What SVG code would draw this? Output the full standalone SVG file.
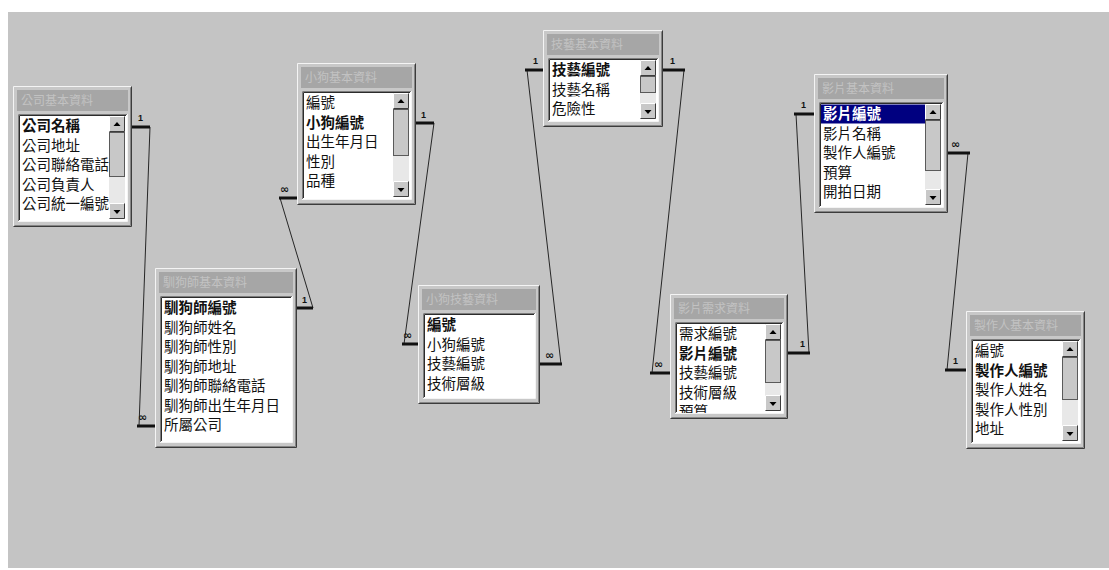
<svg xmlns="http://www.w3.org/2000/svg" xmlns:xlink="http://www.w3.org/1999/xlink" width="1109" height="570" viewBox="0 0 1109 570">
<style>
.face{fill:#c8c8c8}
.hl{fill:none;stroke:#f4f4f4;stroke-width:1}
.sh{fill:none;stroke:#3c3c3c;stroke-width:1}
.sh2{fill:none;stroke:#858585;stroke-width:1}
.tb{fill:#a6a6a6}
.tt{font-family:"Noto Sans CJK TC","Noto Sans CJK SC",sans-serif;font-size:12px;fill:#c2c2c2}
.lst{fill:#ffffff}
.sk1{fill:none;stroke:#7c7c7c;stroke-width:1}
.sk2{fill:none;stroke:#2c2c2c;stroke-width:1}
.f{font-family:"Noto Sans CJK TC","Noto Sans CJK SC",sans-serif;font-size:14.5px;fill:#111}
.b{font-weight:bold}
.sel{fill:#ffffff}
.trk{fill:#e8e8e8}
.thumb{fill:#c8c8c8;stroke:#5a5a5a;stroke-width:1}
.stub{fill:none;stroke:#111;stroke-width:3}
.ln{fill:none;stroke:#262626;stroke-width:1}
.lab{font-family:"Liberation Sans",sans-serif;font-size:9px;font-weight:bold;fill:#111}
.inf{font-family:"DejaVu Sans",sans-serif;font-size:11px;font-weight:bold;fill:#111}
</style>
<defs>
<g id="up"><rect width="16" height="16" fill="#c8c8c8"/><path d="M0.5,15.5V0.5H15.5" stroke="#fff" fill="none"/><path d="M0.5,15.5H15.5V0.5" stroke="#3c3c3c" fill="none"/><path d="M8,6L4.5,10H11.5Z" fill="#000"/></g>
<g id="dn"><rect width="16" height="16" fill="#c8c8c8"/><path d="M0.5,15.5V0.5H15.5" stroke="#fff" fill="none"/><path d="M0.5,15.5H15.5V0.5" stroke="#3c3c3c" fill="none"/><path d="M4.5,7H11.5L8,11Z" fill="#000"/></g>
<clipPath id="clipF"><rect x="5" y="28" width="108" height="91"/></clipPath>
</defs>
<rect width="1109" height="570" fill="#ffffff"/>
<rect x="8" y="12" width="1101" height="556" fill="#c4c4c4"/>

<g id="connectors">
<path class="ln" d="M150,127L139,426"/>
<path class="stub" d="M132,127H150"/><path class="stub" d="M137,426H155"/>
<text class="lab" x="138" y="121">1</text><text class="inf" x="138" y="421">∞</text>

<path class="ln" d="M280,198L313,308"/>
<path class="stub" d="M279,198H297"/><path class="stub" d="M297,308H313"/>
<text class="inf" x="280" y="193">∞</text><text class="lab" x="302" y="303">1</text>

<path class="ln" d="M434,123L404,344"/>
<path class="stub" d="M416,123H434"/><path class="stub" d="M402,344H418"/>
<text class="lab" x="421" y="118">1</text><text class="inf" x="403" y="339">∞</text>

<path class="ln" d="M561,364L527,70"/>
<path class="stub" d="M540,364H562"/><path class="stub" d="M525,70H543"/>
<text class="inf" x="545" y="359">∞</text><text class="lab" x="533" y="64">1</text>

<path class="ln" d="M684,70L652,373"/>
<path class="stub" d="M663,70H685"/><path class="stub" d="M650,373H670"/>
<text class="lab" x="670" y="64">1</text><text class="inf" x="654" y="368">∞</text>

<path class="ln" d="M809,353L796,114"/>
<path class="stub" d="M788,353H810"/><path class="stub" d="M794,114H814"/>
<text class="lab" x="800" y="347">1</text><text class="lab" x="801" y="108">1</text>

<path class="ln" d="M968,153L947,370"/>
<path class="stub" d="M948,153H970"/><path class="stub" d="M945,370H966"/>
<text class="inf" x="951" y="148">∞</text><text class="lab" x="953" y="364">1</text>
</g>

<g id="tbl-company" transform="translate(13,86)">
<rect class="face" width="119" height="141"/>
<path class="hl" d="M0.5,140V0.5H118"/><path class="sh" d="M0.5,140.5H118.5V0.5"/><path class="sh2" d="M1.5,139.5H117.5V1.5"/>
<rect class="tb" x="4" y="4" width="111" height="21"/><text class="tt" x="8" y="19">公司基本資料</text>
<rect class="lst" x="5" y="28" width="109" height="107"/>
<path class="sk1" d="M5.5,135V28.5H114"/><path class="sk2" d="M6.5,134V29.5H113"/><path class="hl" d="M5,135.5H114.5V28"/>
<text class="f b" x="9" y="45">公司名稱</text>
<text class="f" x="9" y="64.5">公司地址</text>
<text class="f" x="9" y="84">公司聯絡電話</text>
<text class="f" x="9" y="103.5">公司負責人</text>
<text class="f" x="9" y="123">公司統一編號</text>
<rect class="trk" x="96" y="30" width="16" height="103"/>
<rect class="thumb" x="96.5" y="46.5" width="15" height="44"/>
<use xlink:href="#up" x="96" y="30"/><use xlink:href="#dn" x="96" y="117"/>
</g>

<g id="tbl-trainer" transform="translate(155,268)">
<rect class="face" width="142" height="180"/>
<path class="hl" d="M0.5,179V0.5H141"/><path class="sh" d="M0.5,179.5H141.5V0.5"/><path class="sh2" d="M1.5,178.5H140.5V1.5"/>
<rect class="tb" x="4" y="4" width="134" height="21"/><text class="tt" x="8" y="19">馴狗師基本資料</text>
<rect class="lst" x="5" y="28" width="132" height="146"/>
<path class="sk1" d="M5.5,174V28.5H137"/><path class="sk2" d="M6.5,173V29.5H136"/><path class="hl" d="M5,174.5H137.5V28"/>
<text class="f b" x="9" y="45">馴狗師編號</text>
<text class="f" x="9" y="64.5">馴狗師姓名</text>
<text class="f" x="9" y="84">馴狗師性別</text>
<text class="f" x="9" y="103.5">馴狗師地址</text>
<text class="f" x="9" y="123">馴狗師聯絡電話</text>
<text class="f" x="9" y="142.5">馴狗師出生年月日</text>
<text class="f" x="9" y="162">所屬公司</text>
</g>

<g id="tbl-dog" transform="translate(297,63)">
<rect class="face" width="119" height="142"/>
<path class="hl" d="M0.5,141V0.5H118"/><path class="sh" d="M0.5,141.5H118.5V0.5"/><path class="sh2" d="M1.5,140.5H117.5V1.5"/>
<rect class="tb" x="4" y="4" width="111" height="21"/><text class="tt" x="8" y="19">小狗基本資料</text>
<rect class="lst" x="5" y="28" width="109" height="108"/>
<path class="sk1" d="M5.5,136V28.5H114"/><path class="sk2" d="M6.5,135V29.5H113"/><path class="hl" d="M5,136.5H114.5V28"/>
<text class="f" x="9" y="45">編號</text>
<text class="f b" x="9" y="64.5">小狗編號</text>
<text class="f" x="9" y="84">出生年月日</text>
<text class="f" x="9" y="103.5">性別</text>
<text class="f" x="9" y="123">品種</text>
<rect class="trk" x="96" y="30" width="16" height="104"/>
<rect class="thumb" x="96.5" y="46.5" width="15" height="46"/>
<use xlink:href="#up" x="96" y="30"/><use xlink:href="#dn" x="96" y="118"/>
</g>

<g id="tbl-dogskill" transform="translate(418,285)">
<rect class="face" width="122" height="119"/>
<path class="hl" d="M0.5,118V0.5H121"/><path class="sh" d="M0.5,118.5H121.5V0.5"/><path class="sh2" d="M1.5,117.5H120.5V1.5"/>
<rect class="tb" x="4" y="4" width="114" height="21"/><text class="tt" x="8" y="19">小狗技藝資料</text>
<rect class="lst" x="5" y="28" width="112" height="85"/>
<path class="sk1" d="M5.5,113V28.5H117"/><path class="sk2" d="M6.5,112V29.5H116"/><path class="hl" d="M5,113.5H117.5V28"/>
<text class="f b" x="9" y="45">編號</text>
<text class="f" x="9" y="64.5">小狗編號</text>
<text class="f" x="9" y="84">技藝編號</text>
<text class="f" x="9" y="103.5">技術層級</text>
</g>

<g id="tbl-skill" transform="translate(543,30)">
<rect class="face" width="120" height="97"/>
<path class="hl" d="M0.5,96V0.5H119"/><path class="sh" d="M0.5,96.5H119.5V0.5"/><path class="sh2" d="M1.5,95.5H118.5V1.5"/>
<rect class="tb" x="4" y="4" width="112" height="21"/><text class="tt" x="8" y="19">技藝基本資料</text>
<rect class="lst" x="5" y="28" width="110" height="63"/>
<path class="sk1" d="M5.5,91V28.5H115"/><path class="sk2" d="M6.5,90V29.5H114"/><path class="hl" d="M5,91.5H115.5V28"/>
<text class="f b" x="9" y="45">技藝編號</text>
<text class="f" x="9" y="64.5">技藝名稱</text>
<text class="f" x="9" y="84">危險性</text>
<rect class="trk" x="97" y="30" width="16" height="59"/>
<rect class="thumb" x="97.5" y="46.5" width="15" height="16"/>
<use xlink:href="#up" x="97" y="30"/><use xlink:href="#dn" x="97" y="73"/>
</g>

<g id="tbl-demand" transform="translate(670,294)">
<rect class="face" width="118" height="125"/>
<path class="hl" d="M0.5,124V0.5H117"/><path class="sh" d="M0.5,124.5H117.5V0.5"/><path class="sh2" d="M1.5,123.5H116.5V1.5"/>
<rect class="tb" x="4" y="4" width="110" height="21"/><text class="tt" x="8" y="19">影片需求資料</text>
<rect class="lst" x="5" y="28" width="108" height="91"/>
<g clip-path="url(#clipF)">
<text class="f" x="9" y="45">需求編號</text>
<text class="f b" x="9" y="64.5">影片編號</text>
<text class="f" x="9" y="84">技藝編號</text>
<text class="f" x="9" y="103.5">技術層級</text>
<text class="f" x="9" y="123">預算</text>
</g>
<path class="sk1" d="M5.5,119V28.5H113"/><path class="sk2" d="M6.5,118V29.5H112"/><path class="hl" d="M5,119.5H113.5V28"/>
<rect class="trk" x="95" y="30" width="16" height="87"/>
<rect class="thumb" x="95.5" y="46.5" width="15" height="42"/>
<use xlink:href="#up" x="95" y="30"/><use xlink:href="#dn" x="95" y="101"/>
</g>

<g id="tbl-film" transform="translate(814,74)">
<rect class="face" width="134" height="139"/>
<path class="hl" d="M0.5,138V0.5H133"/><path class="sh" d="M0.5,138.5H133.5V0.5"/><path class="sh2" d="M1.5,137.5H132.5V1.5"/>
<rect class="tb" x="4" y="4" width="126" height="21"/><text class="tt" x="8" y="19">影片基本資料</text>
<rect class="lst" x="5" y="28" width="124" height="105"/>
<path class="sk1" d="M5.5,133V28.5H129"/><path class="sk2" d="M6.5,132V29.5H128"/><path class="hl" d="M5,133.5H129.5V28"/>
<rect x="7" y="30.5" width="104" height="19" fill="#000080"/>
<text class="f b sel" x="9" y="45">影片編號</text>
<text class="f" x="9" y="64.5">影片名稱</text>
<text class="f" x="9" y="84">製作人編號</text>
<text class="f" x="9" y="103.5">預算</text>
<text class="f" x="9" y="123">開拍日期</text>
<rect class="trk" x="111" y="30" width="16" height="101"/>
<rect class="thumb" x="111.5" y="46.5" width="15" height="50"/>
<use xlink:href="#up" x="111" y="30"/><use xlink:href="#dn" x="111" y="115"/>
</g>

<g id="tbl-producer" transform="translate(966,311)">
<rect class="face" width="119" height="138"/>
<path class="hl" d="M0.5,137V0.5H118"/><path class="sh" d="M0.5,137.5H118.5V0.5"/><path class="sh2" d="M1.5,136.5H117.5V1.5"/>
<rect class="tb" x="4" y="4" width="111" height="21"/><text class="tt" x="8" y="19">製作人基本資料</text>
<rect class="lst" x="5" y="28" width="109" height="104"/>
<path class="sk1" d="M5.5,132V28.5H114"/><path class="sk2" d="M6.5,131V29.5H113"/><path class="hl" d="M5,132.5H114.5V28"/>
<text class="f" x="9" y="45">編號</text>
<text class="f b" x="9" y="64.5">製作人編號</text>
<text class="f" x="9" y="84">製作人姓名</text>
<text class="f" x="9" y="103.5">製作人性別</text>
<text class="f" x="9" y="123">地址</text>
<rect class="trk" x="96" y="30" width="16" height="100"/>
<rect class="thumb" x="96.5" y="46.5" width="15" height="42"/>
<use xlink:href="#up" x="96" y="30"/><use xlink:href="#dn" x="96" y="114"/>
</g>
</svg>
